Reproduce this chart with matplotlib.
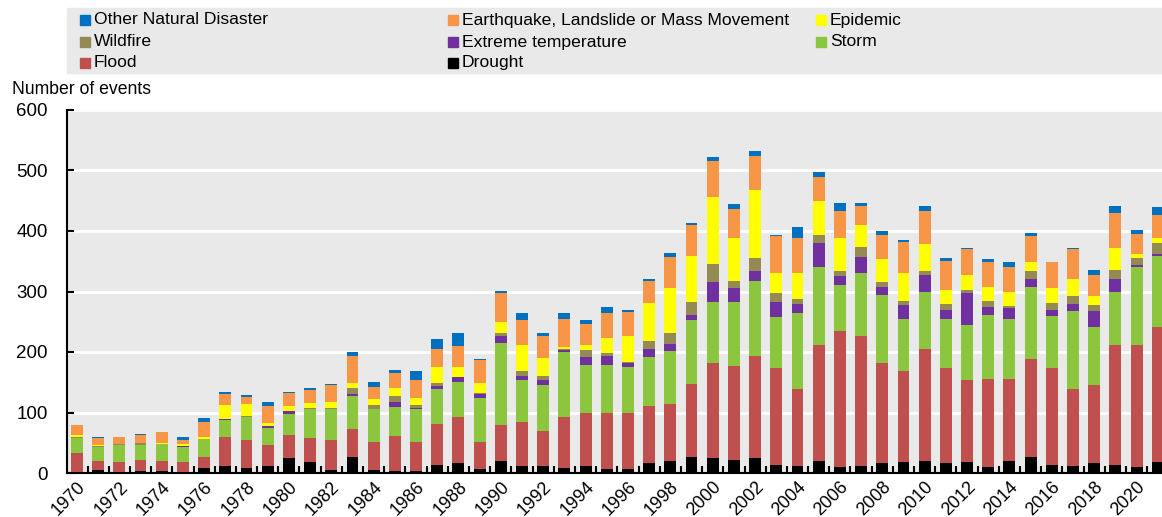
import matplotlib.pyplot as plt
import matplotlib.patches as mpatches
import numpy as np

years = list(range(1970, 2022))

drought = [1, 5, 2, 3, 3, 1, 9, 12, 8, 12, 24, 18, 5, 27, 5, 3, 4, 14, 17, 7,
           20, 11, 11, 9, 11, 6, 7, 17, 20, 26, 25, 22, 25, 14, 12, 20, 10, 12,
           17, 19, 20, 17, 19, 10, 20, 26, 14, 12, 17, 14, 10, 18]
flood = [32, 15, 16, 19, 17, 17, 17, 48, 46, 34, 38, 40, 49, 46, 47, 58, 48, 67,
         75, 45, 60, 74, 58, 83, 89, 93, 92, 94, 94, 121, 157, 155, 169, 159, 127,
         191, 224, 215, 165, 150, 185, 156, 135, 146, 136, 162, 159, 127, 128,
         197, 201, 223]
storm = [25, 23, 28, 24, 28, 25, 30, 27, 38, 29, 36, 47, 51, 55, 53, 48, 53, 58,
         59, 72, 135, 68, 76, 108, 79, 80, 76, 81, 88, 106, 100, 105, 124, 85,
         125, 129, 76, 104, 112, 86, 94, 82, 91, 105, 99, 120, 87, 129, 96, 89,
         129, 118]
extreme_temp = [0, 0, 1, 1, 0, 2, 0, 2, 1, 3, 4, 1, 1, 3, 0, 9, 2, 4, 7, 7, 12,
                8, 9, 4, 12, 14, 6, 13, 11, 8, 33, 24, 16, 25, 15, 40, 15, 26, 14,
                22, 28, 15, 53, 14, 17, 13, 10, 11, 27, 21, 4, 3]
wildfire = [1, 1, 1, 2, 0, 0, 0, 1, 1, 0, 0, 2, 2, 10, 8, 10, 6, 6, 0, 2, 4, 8,
            7, 1, 12, 5, 2, 14, 19, 22, 30, 12, 21, 15, 8, 13, 9, 17, 7, 8, 7, 9,
            4, 10, 4, 13, 11, 14, 10, 15, 11, 18]
epidemic = [4, 2, 0, 1, 2, 3, 4, 22, 20, 4, 8, 7, 9, 8, 10, 13, 11, 26, 18, 15,
            18, 42, 29, 4, 8, 25, 44, 62, 73, 76, 112, 71, 112, 32, 43, 57, 55,
            36, 39, 45, 44, 23, 25, 23, 24, 14, 24, 27, 15, 36, 7, 8]
earthquake = [16, 12, 12, 12, 17, 7, 25, 18, 11, 29, 22, 23, 28, 45, 19, 24, 29,
              30, 34, 38, 48, 42, 36, 46, 36, 42, 39, 36, 52, 51, 59, 48, 57, 61,
              59, 39, 44, 32, 40, 51, 55, 49, 43, 40, 40, 43, 44, 50, 34, 57, 33,
              39]
other = [1, 2, 0, 2, 1, 5, 6, 4, 4, 6, 2, 2, 2, 6, 9, 5, 15, 16, 22, 2, 3, 11, 5,
         9, 6, 9, 4, 3, 6, 4, 6, 8, 8, 3, 17, 8, 13, 4, 6, 4, 8, 4, 2, 5, 8, 6, 0,
         2, 9, 12, 7, 12]

# stacking order bottom -> top
series = [
    ("Drought", drought, "#000000"),
    ("Flood", flood, "#C0504D"),
    ("Storm", storm, "#8CC63F"),
    ("Extreme temperature", extreme_temp, "#7030A0"),
    ("Wildfire", wildfire, "#948A54"),
    ("Epidemic", epidemic, "#FFFF00"),
    ("Earthquake, Landslide or Mass Movement", earthquake, "#F79646"),
    ("Other Natural Disaster", other, "#0070C0"),
]

plt.rcParams['font.family'] = ['Liberation Sans', 'DejaVu Sans']

W, H = 1162, 517
fig = plt.figure(figsize=(W / 100, H / 100), dpi=100)
ax = fig.add_axes([67 / W, 1 - 473 / H, 1 - 67 / W, (473 - 110) / H])
ax.set_facecolor("#E9E9E9")

x = np.arange(len(years))
bottom = np.zeros(len(years))
for name, vals, col in series:
    ax.bar(x, vals, width=0.56, bottom=bottom, color=col, zorder=3)
    bottom += np.array(vals)

ax.set_ylim(0, 600)
ax.set_xlim(-0.47, 51.2)
ax.set_yticks(range(0, 601, 100))
ax.yaxis.grid(True, color="white", linewidth=2, zorder=0)
ax.set_axisbelow(True)
for s in ["top", "right"]:
    ax.spines[s].set_visible(False)
ax.spines["left"].set_linewidth(1.5)
ax.spines["bottom"].set_linewidth(1.5)
ax.tick_params(axis="y", direction="in", length=5, width=1.5, labelsize=13.5, pad=14)

ax.set_xticks(x[::2])
ax.set_xticklabels([str(y) for y in years[::2]], rotation=45, ha="right", va="top",
                   rotation_mode="anchor", fontsize=13)
ax.set_xticks(x[:-1] + 0.5, minor=True)
ax.tick_params(axis="x", which="major", length=0, pad=4)
ax.tick_params(axis="x", which="minor", direction="in", length=5, width=1.5)

fig.text(12 / W, 1 - 90 / H, "Number of events", fontsize=12.7, va="center", ha="left")

# legend drawn by hand: grey box, three columns filled row by row
fig.patches.append(mpatches.Rectangle((67 / W, 1 - 73 / H), 1 - 67 / W, 65 / H,
                                      transform=fig.transFigure, color="#E9E9E9", zorder=0))
legend_order = ["Other Natural Disaster", "Earthquake, Landslide or Mass Movement", "Epidemic",
                "Wildfire", "Extreme temperature", "Storm", "Flood", "Drought"]
colors = {name: col for name, vals, col in series}
col_x = [80, 448, 816]
row_y = [20, 42, 63]
for i, name in enumerate(legend_order):
    cx = col_x[i % 3]
    ry = row_y[i // 3]
    fig.patches.append(mpatches.Rectangle((cx / W, 1 - (ry + 5) / H), 10 / W, 10 / H,
                                          transform=fig.transFigure, color=colors[name]))
    fig.text((cx + 14) / W, 1 - ry / H, name, fontsize=12.6, va="center", ha="left")

fig.savefig("out.png", dpi=100)
